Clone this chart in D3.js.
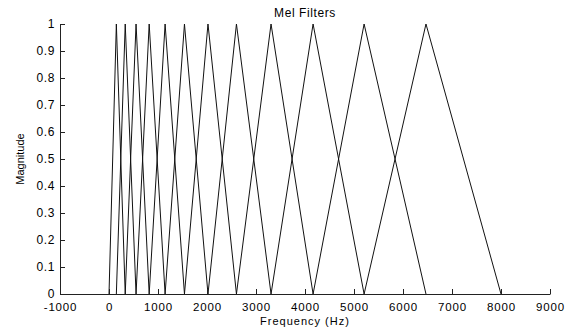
<!DOCTYPE html>
<html>
<head>
<meta charset="utf-8">
<script src="https://cdn.jsdelivr.net/npm/d3@7"></script>
<style>
  body { margin: 0; background: #fff; }
  svg { display: block; font-family: "Liberation Sans", Arial, sans-serif; }
</style>
</head>
<body>
<svg id="chart" width="569" height="327"></svg>
<script>
// filter edge frequencies (Hz): filter i goes edges[i] -> edges[i+1] (peak) -> edges[i+2]
const edges = [0, 150, 331, 552, 820, 1145, 1540, 2020, 2601, 3307, 4165, 5206, 6469, 8000];
const xTicks = [-1000, 0, 1000, 2000, 3000, 4000, 5000, 6000, 7000, 8000, 9000];
const yTicks = [0, 0.1, 0.2, 0.3, 0.4, 0.5, 0.6, 0.7, 0.8, 0.9, 1];

const margin = { top: 24, right: 19, bottom: 33, left: 60 },
  width = 569,
  height = 327;

const svg = d3.select("#chart");

const x = d3.scaleLinear().domain([-1000, 9000]).range([margin.left, width - margin.right]);
const y = d3.scaleLinear().domain([0, 1]).range([height - margin.bottom, margin.top]);

// build triangles from the edges
const filters = d3.range(edges.length - 2).map((i) => [
  [edges[i], 0],
  [edges[i + 1], 1],
  [edges[i + 2], 0],
]);

const line = d3.line().x((d) => x(d[0])).y((d) => y(d[1]));

svg
  .append("g")
  .selectAll("path")
  .data(filters)
  .enter()
  .append("path")
  .attr("d", line)
  .attr("fill", "none")
  .attr("stroke", "#111")
  .attr("stroke-width", 1);

const styleTicks = (size, spacing) => (g) => {
  g.select(".domain").attr("stroke", "#222");
  g.selectAll(".tick line").attr("stroke", "#222");
  g.selectAll(".tick text")
    .attr("font-size", size)
    .attr("letter-spacing", spacing)
    .attr("fill", "#000")
    .attr("font-family", null);
};

// x axis, ticks pointing inward
svg
  .append("g")
  .attr("transform", `translate(0,${y(0)})`)
  .call(d3.axisBottom(x).tickValues(xTicks).tickSize(-5).tickSizeOuter(0).tickPadding(9).tickFormat((d) => String(d)))
  .call(styleTicks(11.5, 0.8));

// y axis
svg
  .append("g")
  .attr("transform", `translate(${x(-1000)},0)`)
  .call(d3.axisLeft(y).tickValues(yTicks).tickSize(-5).tickSizeOuter(0).tickPadding(5).tickFormat((d) => String(d)))
  .call(styleTicks(12, 0.6));

// labels
svg
  .append("text")
  .attr("x", (x(-1000) + x(9000)) / 2)
  .attr("y", 17)
  .attr("text-anchor", "middle")
  .attr("font-size", 12)
  .attr("letter-spacing", 0.6)
  .text("Mel Filters");

svg
  .append("text")
  .attr("x", (x(-1000) + x(9000)) / 2)
  .attr("y", 324.5)
  .attr("text-anchor", "middle")
  .attr("font-size", 11)
  .attr("letter-spacing", 1)
  .text("Frequency (Hz)");

svg
  .append("text")
  .attr("transform", `translate(24,${(y(0) + y(1)) / 2}) rotate(-90)`)
  .attr("text-anchor", "middle")
  .attr("font-size", 11)
  .text("Magnitude");
</script>
</body>
</html>
